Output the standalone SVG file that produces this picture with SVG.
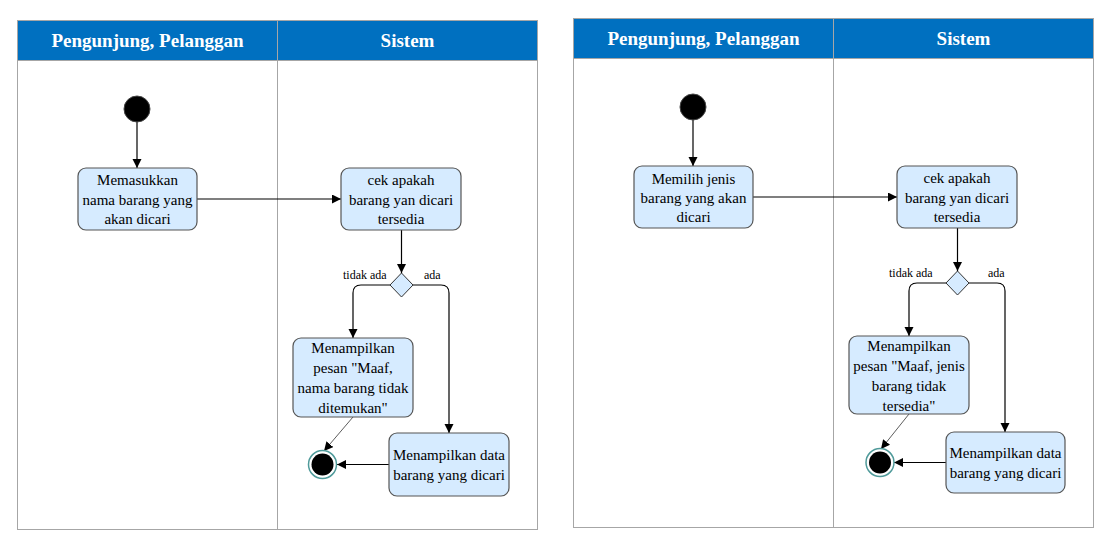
<svg xmlns="http://www.w3.org/2000/svg" width="1106" height="542" viewBox="0 0 1106 542">
<style>
.frame{fill:#ffffff;stroke:#a6a6a6;stroke-width:1}
.hdr{fill:#0070c0;stroke:#a6a6a6;stroke-width:1}
.ht{font-family:'Liberation Serif',serif;font-weight:bold;font-size:19px;fill:#ffffff;text-anchor:middle}
.act{fill:#d6ebff;stroke:#555555;stroke-width:1.2}
.dec{fill:#d6ebff;stroke:#333333;stroke-width:1}
.t{font-family:'Liberation Serif',serif;font-size:15px;fill:#000000;text-anchor:middle}
.lb{font-family:'Liberation Serif',serif;font-size:12px;fill:#000000}
.ln{fill:none;stroke:#000000;stroke-width:1.2}
.thin{fill:none;stroke:#333333;stroke-width:0.8}
.start{fill:#000000;stroke:#444444;stroke-width:1}
.endo{fill:#ffffff;stroke:#4f9a9a;stroke-width:1.5}
.endi{fill:#000000}
</style>
<defs>
<marker id="arr" markerUnits="userSpaceOnUse" markerWidth="10" markerHeight="10" refX="9" refY="4.5" orient="auto">
<path d="M0,0 L9,4.5 L0,9 z" fill="#000000"/>
</marker>
</defs>

<!-- Left diagram -->
<g id="lanes-left">
<rect class="frame" x="17.5" y="20.5" width="520" height="509"/>
<line x1="277.5" y1="60" x2="277.5" y2="529.5" stroke="#a6a6a6" stroke-width="1"/>
<rect class="hdr" x="17.5" y="20.5" width="260" height="40"/>
<rect class="hdr" x="277.5" y="20.5" width="260" height="40"/>
<text class="ht" x="147.5" y="46.5">Pengunjung, Pelanggan</text>
<text class="ht" x="407.5" y="46.5">Sistem</text>
</g>

<g id="connectors-left">
<line class="ln" x1="137" y1="122" x2="137" y2="168" marker-end="url(#arr)"/>
<line class="ln" x1="197" y1="199" x2="341" y2="199" marker-end="url(#arr)"/>
<line class="ln" x1="401.5" y1="230" x2="401.5" y2="273" marker-end="url(#arr)"/>
<path class="ln" d="M390,285 H361 Q353,285 353,293 V338" marker-end="url(#arr)"/>
<path class="ln" d="M413,285 H441 Q449,285 449,293 V433" marker-end="url(#arr)"/>
<line class="ln" x1="389" y1="464.5" x2="337" y2="464.5" marker-end="url(#arr)"/>
<line class="thin" x1="353" y1="417" x2="324" y2="451" marker-end="url(#arr)"/>
</g>
<g id="label-left-tidak"><text class="lb" x="343" y="279">tidak ada</text></g>
<g id="label-left-ada"><text class="lb" x="424" y="279">ada</text></g>

<g id="start-left"><circle class="start" cx="137" cy="109" r="13"/></g>
<g id="act-left-input">
<rect class="act" x="78" y="168" width="119" height="62" rx="8"/>
<text class="t" x="137.5" y="185">Memasukkan</text>
<text class="t" x="137.5" y="205">nama barang yang</text>
<text class="t" x="137.5" y="224">akan dicari</text>
</g>
<g id="act-left-cek">
<rect class="act" x="341" y="168" width="120" height="62" rx="8"/>
<text class="t" x="401" y="184.5">cek apakah</text>
<text class="t" x="401" y="204.5">barang yan dicari</text>
<text class="t" x="401" y="224">tersedia</text>
</g>
<g id="dec-left"><path class="dec" d="M401.5,273 L413,285 L401.5,297 L390,285 z"/></g>
<g id="act-left-pesan">
<rect class="act" x="293" y="338" width="120" height="79" rx="8"/>
<text class="t" x="353" y="353">Menampilkan</text>
<text class="t" x="353" y="373">pesan "Maaf,</text>
<text class="t" x="353" y="393">nama barang tidak</text>
<text class="t" x="353" y="413">ditemukan"</text>
</g>
<g id="act-left-data">
<rect class="act" x="389" y="433" width="120" height="63" rx="8"/>
<text class="t" x="449" y="460">Menampilkan data</text>
<text class="t" x="449" y="480">barang yang dicari</text>
</g>
<g id="end-left">
<circle class="endo" cx="322.5" cy="464.5" r="14"/>
<circle class="endi" cx="322.5" cy="464.5" r="11"/>
</g>

<!-- Right diagram -->
<g id="lanes-right">
<rect class="frame" x="573.5" y="18.5" width="520" height="509"/>
<line x1="833.5" y1="58" x2="833.5" y2="527.5" stroke="#a6a6a6" stroke-width="1"/>
<rect class="hdr" x="573.5" y="18.5" width="260" height="40"/>
<rect class="hdr" x="833.5" y="18.5" width="260" height="40"/>
<text class="ht" x="703.5" y="44.5">Pengunjung, Pelanggan</text>
<text class="ht" x="963.5" y="44.5">Sistem</text>
</g>

<g id="connectors-right">
<line class="ln" x1="693" y1="120" x2="693" y2="166" marker-end="url(#arr)"/>
<line class="ln" x1="753" y1="197" x2="897" y2="197" marker-end="url(#arr)"/>
<line class="ln" x1="957.5" y1="228" x2="957.5" y2="271" marker-end="url(#arr)"/>
<path class="ln" d="M946,283 H917 Q909,283 909,291 V336" marker-end="url(#arr)"/>
<path class="ln" d="M969,283 H997 Q1005,283 1005,291 V432" marker-end="url(#arr)"/>
<line class="ln" x1="946" y1="462.5" x2="894" y2="462.5" marker-end="url(#arr)"/>
<line class="thin" x1="909" y1="414" x2="881" y2="449" marker-end="url(#arr)"/>
</g>
<g id="label-right-tidak"><text class="lb" x="889" y="276.5">tidak ada</text></g>
<g id="label-right-ada"><text class="lb" x="988" y="276.5">ada</text></g>

<g id="start-right"><circle class="start" cx="693" cy="107" r="13"/></g>
<g id="act-right-pilih">
<rect class="act" x="634" y="166" width="119" height="62" rx="8"/>
<text class="t" x="693.5" y="183.5">Memilih jenis</text>
<text class="t" x="693.5" y="203">barang yang akan</text>
<text class="t" x="693.5" y="222">dicari</text>
</g>
<g id="act-right-cek">
<rect class="act" x="897" y="166" width="120" height="62" rx="8"/>
<text class="t" x="957" y="182.5">cek apakah</text>
<text class="t" x="957" y="202.5">barang yan dicari</text>
<text class="t" x="957" y="222">tersedia</text>
</g>
<g id="dec-right"><path class="dec" d="M957.5,271 L969,283 L957.5,295 L946,283 z"/></g>
<g id="act-right-pesan">
<rect class="act" x="849" y="336" width="120" height="78" rx="8"/>
<text class="t" x="909" y="351">Menampilkan</text>
<text class="t" x="909" y="371">pesan "Maaf, jenis</text>
<text class="t" x="909" y="391">barang tidak</text>
<text class="t" x="909" y="411">tersedia"</text>
</g>
<g id="act-right-data">
<rect class="act" x="946" y="432" width="119" height="61" rx="8"/>
<text class="t" x="1005.5" y="458">Menampilkan data</text>
<text class="t" x="1005.5" y="478">barang yang dicari</text>
</g>
<g id="end-right">
<circle class="endo" cx="880" cy="462.5" r="14"/>
<circle class="endi" cx="880" cy="462.5" r="11"/>
</g>
</svg>
